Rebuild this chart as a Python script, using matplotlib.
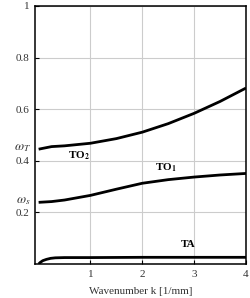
import matplotlib
matplotlib.use("Agg")
from matplotlib import pyplot as plt

# values
k_to2 = [0.0, 0.25, 0.5, 1.0, 1.5, 2.0, 2.5, 3.0, 3.5, 4.0]
w_to2 = [0.445, 0.455, 0.458, 0.468, 0.486, 0.511, 0.544, 0.584, 0.630, 0.682]

k_to1 = [0.0, 0.25, 0.5, 1.0, 1.5, 2.0, 2.5, 3.0, 3.5, 4.0]
w_to1 = [0.239, 0.242, 0.248, 0.266, 0.290, 0.313, 0.327, 0.337, 0.345, 0.351]

k_ta = [0.0, 0.03, 0.08, 0.15, 0.23, 0.32, 0.5, 1.0, 2.0, 3.0, 4.0]
w_ta = [0.0, 0.006, 0.013, 0.018, 0.022, 0.024, 0.025, 0.025, 0.026, 0.026, 0.026]

y_ticks = [0.2, 0.4, 0.6, 0.8, 1.0]
y_tick_labels = ["0.2", "0.4", "0.6", "0.8", "1"]
x_ticks = [1, 2, 3, 4]
omega_t = 0.449
omega_s = 0.243

plt.rcParams['font.family'] = ['Liberation Serif', 'DejaVu Serif']
plt.rcParams['mathtext.fontset'] = 'stix'

fig = plt.figure(figsize=(2.5, 2.98), dpi=100)
ax = fig.add_axes([0.14, 0.114, 0.844, 0.866])

for k, w in [(k_to2, w_to2), (k_to1, w_to1), (k_ta, w_ta)]:
    ax.plot(k, w, color='black', linewidth=2.0, solid_capstyle='butt')

ax.set_xlim(-0.07, 4.0)
ax.set_ylim(0, 1.0)
ax.set_xticks(x_ticks)
ax.set_yticks(y_ticks)
ax.set_yticklabels(y_tick_labels)
ax.grid(True, color='#cccccc', linewidth=0.8)
ax.set_axisbelow(True)
ax.tick_params(direction='in', length=3, width=0.8, labelsize=8,
               labelcolor='#333333', pad=4)
for s in ax.spines.values():
    s.set_linewidth(1.1)

# omega labels on the y axis
ax.text(-0.02, omega_t, r'$\omega_T$', ha='right', va='center',
        fontsize=9.5, color='#333333', transform=ax.get_yaxis_transform())
ax.text(-0.02, omega_s, r'$\omega_s$', ha='right', va='center',
        fontsize=9.5, color='#333333', transform=ax.get_yaxis_transform())

ax.text(0.77, 0.42, r'TO$_\mathbf{2}$', ha='center', va='center', fontsize=8, fontweight='bold')
ax.text(2.45, 0.375, r'TO$_\mathbf{1}$', ha='center', va='center', fontsize=8, fontweight='bold')
ax.text(2.88, 0.076, 'TA', ha='center', va='center', fontsize=8, fontweight='bold')

ax.set_xlabel("Wavenumber k [1/mm]", fontsize=8, color='#333333', labelpad=6)

fig.savefig("out.png", dpi=100)
